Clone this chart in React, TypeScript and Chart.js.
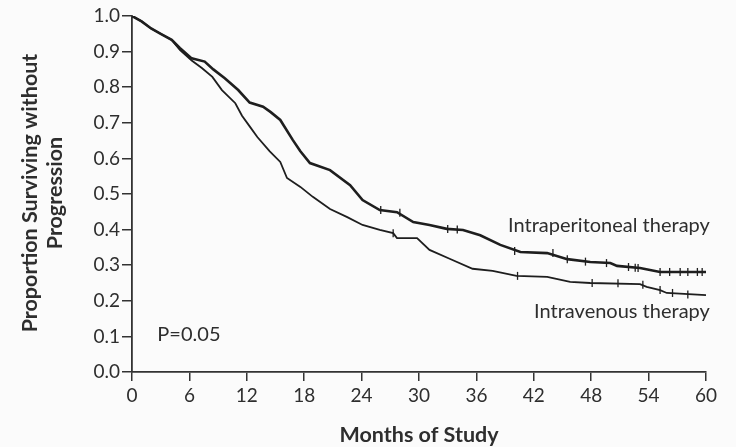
import React, { useEffect, useRef } from "react";
import { Chart, registerables } from "chart.js";

Chart.register(...registerables);

// Months / proportion surviving without progression
const ipMonths = [0, 1, 2, 3, 4.15, 5, 6.24, 7.6, 8.5, 9.7, 11.1, 12.3, 13.7, 14.5, 15.5, 16.8, 17.6, 18.6, 20.7, 22.8, 24.1, 25.9, 27.7, 29.4, 31.1, 32.9, 34.6, 36.4, 38.5, 40.6, 43.4, 45.5, 47.9, 50, 50.7, 53.1, 55.2, 60];
const ipValues = [1.0, 0.985, 0.965, 0.95, 0.933, 0.91, 0.881, 0.872, 0.85, 0.825, 0.792, 0.757, 0.745, 0.73, 0.708, 0.652, 0.62, 0.587, 0.567, 0.525, 0.483, 0.455, 0.449, 0.421, 0.413, 0.402, 0.399, 0.384, 0.357, 0.337, 0.334, 0.317, 0.309, 0.306, 0.298, 0.292, 0.281, 0.281];

const ivMonths = [0, 1, 2, 3, 4.15, 5, 6.24, 7.3, 8.4, 9.4, 10.8, 11.5, 12.3, 13.1, 14.4, 15.5, 16.2, 17.6, 18.9, 20.7, 22.5, 24.1, 25.9, 27.3, 27.7, 29.8, 31.1, 33.2, 35.6, 37.7, 40.2, 43.4, 45.8, 47.9, 53.1, 53.8, 55.2, 55.9, 60];
const ivValues = [1.0, 0.985, 0.965, 0.95, 0.933, 0.905, 0.875, 0.854, 0.829, 0.792, 0.755, 0.72, 0.69, 0.66, 0.62, 0.59, 0.545, 0.52, 0.492, 0.458, 0.435, 0.413, 0.399, 0.39, 0.376, 0.376, 0.343, 0.318, 0.29, 0.284, 0.27, 0.267, 0.253, 0.25, 0.247, 0.239, 0.23, 0.222, 0.216];

// Censoring marks
const ipCensorMonths = [26, 28, 33, 34, 40, 44, 45.5, 47.4, 49.6, 51.9, 52.6, 52.9, 55.2, 56.2, 57.3, 58.1, 59.1, 59.6];
const ipCensorValues = [0.455, 0.447, 0.402, 0.4, 0.34, 0.334, 0.317, 0.31, 0.306, 0.295, 0.293, 0.292, 0.281, 0.281, 0.281, 0.281, 0.281, 0.281];
const ivCensorMonths = [27.3, 40.3, 48.1, 50.8, 53.4, 55.2, 56.5, 58.1];
const ivCensorValues = [0.39, 0.27, 0.25, 0.249, 0.245, 0.23, 0.222, 0.218];

const xTicks = [0, 6, 12, 18, 24, 30, 36, 42, 48, 54, 60];
const yTicks = [0, 0.1, 0.2, 0.3, 0.4, 0.5, 0.6, 0.7, 0.8, 0.9, 1.0];

const seriesLabels = ["Intraperitoneal therapy", "Intravenous therapy"];
const pValueText = "P=0.05";
const xTitle = "Months of Study";
const yTitle = ["Proportion Surviving without", "Progression"];

const FONT = "Lato, 'Open Sans', sans-serif";
const TEXT = "#2e2e2e";
const LINE = "#1e1e1e";

const zip = (xs: number[], ys: number[]) => xs.map((x, i) => ({ x, y: ys[i] }));

const textPlugin = {
  id: "texts",
  afterDraw(chart: any) {
    const { ctx, scales } = chart;
    const xs = scales.x;
    const ys = scales.y;
    ctx.save();
    ctx.fillStyle = TEXT;
    ctx.font = `20px ${FONT}`;
    ctx.textBaseline = "middle";
    ctx.textAlign = "right";
    ctx.fillText(seriesLabels[0], xs.getPixelForValue(60.4), ys.getPixelForValue(0.41));
    ctx.fillText(seriesLabels[1], xs.getPixelForValue(60.4), ys.getPixelForValue(0.171));
    ctx.textAlign = "left";
    ctx.fillText(pValueText, xs.getPixelForValue(2.65), ys.getPixelForValue(0.104));

    ctx.font = `bold 21.5px ${FONT}`;
    ctx.textAlign = "center";
    ctx.textBaseline = "alphabetic";
    ctx.fillText(xTitle, (xs.left + xs.right) / 2, 442);

    ctx.translate(0, 193);
    ctx.rotate(-Math.PI / 2);
    ctx.fillText(yTitle[0], 0, 37);
    ctx.fillText(yTitle[1], 0, 62);
    ctx.restore();
  },
};

export default function App() {
  const ref = useRef<HTMLCanvasElement | null>(null);
  useEffect(() => {
    if (!ref.current) return;
    const censorStyle = {
      showLine: false,
      pointStyle: "line" as const,
      rotation: 90,
      pointRadius: 4,
      pointBorderWidth: 1.3,
      pointBorderColor: LINE,
      pointBackgroundColor: LINE,
      borderColor: LINE,
    };
    const chart = new Chart(ref.current, {
      type: "line",
      data: {
        datasets: [
          { label: seriesLabels[0], data: zip(ipMonths, ipValues), borderColor: LINE, borderWidth: 2.6, pointRadius: 0, tension: 0 },
          { label: seriesLabels[1], data: zip(ivMonths, ivValues), borderColor: LINE, borderWidth: 1.8, pointRadius: 0, tension: 0 },
          { label: "ip-censor", data: zip(ipCensorMonths, ipCensorValues), ...censorStyle },
          { label: "iv-censor", data: zip(ivCensorMonths, ivCensorValues), ...censorStyle },
        ],
      },
      options: {
        animation: false,
        responsive: false,
        maintainAspectRatio: false,
        layout: { padding: { left: 0, top: 16, right: 30, bottom: 0 } },
        plugins: { legend: { display: false }, tooltip: { enabled: false }, title: { display: false } },
        scales: {
          x: {
            type: "linear",
            min: 0,
            max: 60,
            afterFit: (s: any) => { s.height = 447 - 16 - 356; },
            afterBuildTicks: (s: any) => { s.ticks = xTicks.map((v) => ({ value: v })); },
            ticks: { color: TEXT, font: { family: FONT, size: 19 }, padding: 3, maxRotation: 0, autoSkip: false },
            grid: { display: true, drawOnChartArea: false, drawTicks: true, tickLength: 9, color: "#333", lineWidth: 1.5 },
            border: { display: true, color: "#333", width: 1.8 },
          },
          y: {
            type: "linear",
            min: 0,
            max: 1,
            afterFit: (s: any) => { s.width = 132; },
            afterBuildTicks: (s: any) => { s.ticks = yTicks.map((v) => ({ value: v })); },
            ticks: { color: TEXT, font: { family: FONT, size: 19 }, padding: 2, autoSkip: false, callback: (v: any) => Number(v).toFixed(1) },
            grid: { display: true, drawOnChartArea: false, drawTicks: true, tickLength: 10, color: "#333", lineWidth: 1.5 },
            border: { display: true, color: "#333", width: 1.8 },
          },
        },
      },
      plugins: [textPlugin],
    });
    return () => chart.destroy();
  }, []);
  return (
    <div style={{ position: "fixed", left: 0, top: 0, width: 736, height: 447, background: "#fbfbfb" }}>
      <canvas ref={ref} width={736} height={447} style={{ display: "block", width: 736, height: 447 }} />
    </div>
  );
}
